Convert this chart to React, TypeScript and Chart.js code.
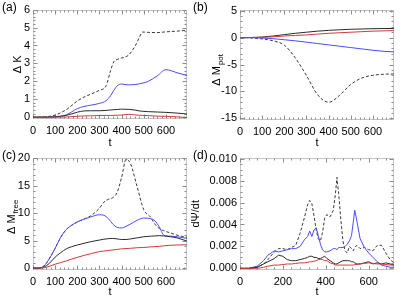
import React, { useEffect, useRef } from 'react';
import { Chart, registerables } from 'chart.js';
Chart.register(...registerables);

const FONT = '"Liberation Sans", Arial, Helvetica, sans-serif';

// ---- Panel (a): Delta K ----
const tA = [0, 50, 100, 150, 200, 230, 260, 300, 330, 350, 365, 380, 400, 430, 460, 480, 495, 520, 560, 600, 650, 695];
const aDashed = [0, 0.02, 0.12, 0.42, 0.9, 1.12, 1.28, 1.5, 1.75, 2.6, 3.1, 3.22, 3.3, 3.45, 3.95, 4.45, 4.75, 4.73, 4.72, 4.76, 4.8, 4.85];
const aBlue = [0, 0, 0.03, 0.13, 0.48, 0.6, 0.67, 0.77, 0.92, 1.2, 1.5, 1.75, 1.85, 1.8, 1.82, 1.86, 1.9, 2.0, 2.3, 2.65, 2.48, 2.32];
const aBlack = [0, 0, 0.02, 0.1, 0.28, 0.35, 0.36, 0.36, 0.38, 0.4, 0.42, 0.43, 0.45, 0.44, 0.4, 0.35, 0.33, 0.31, 0.29, 0.27, 0.23, 0.18];
const aRed = [0, 0, 0, 0.01, 0.05, 0.07, 0.08, 0.09, 0.1, 0.1, 0.1, 0.11, 0.12, 0.16, 0.13, 0.11, 0.1, 0.09, 0.06, 0.05, 0.02, -0.02];
const aYTicks = [0, 1, 2, 3, 4, 5, 6];

// ---- Panel (b): Delta M_pot ----
const tB = [0, 50, 100, 150, 200, 250, 300, 350, 400, 450, 500, 550, 600, 650, 695];
const bDashed = [0, -0.05, -0.25, -0.6, -1.4, -3.8, -7.05, -10.6, -12.0, -10.7, -8.7, -7.5, -7.0, -6.8, -6.75];
const bBlue = [0, -0.02, -0.08, -0.2, -0.4, -0.6, -0.85, -1.1, -1.35, -1.6, -1.85, -2.1, -2.35, -2.55, -2.65];
const bBlack = [0, 0.02, 0.1, 0.3, 0.55, 0.8, 1.0, 1.2, 1.35, 1.45, 1.55, 1.6, 1.65, 1.68, 1.7];
const bRed = [0, 0, 0.05, 0.15, 0.3, 0.4, 0.5, 0.65, 0.8, 0.9, 1.0, 1.1, 1.2, 1.25, 1.3];
const bYTicks = [-15, -10, -5, 0, 5];

// ---- Panel (c): Delta M_free ----
const tC = [0, 25, 50, 75, 100, 125, 150, 175, 200, 230, 260, 300, 320, 340, 360, 380, 400, 420, 440, 470, 500, 530, 550, 570, 590, 620, 650, 695];
const cDashed = [0, 0, 0.4, 1.8, 3.6, 5.6, 7.0, 7.8, 8.4, 8.9, 9.5, 10.9, 12.0, 12.5, 12.8, 13.8, 16.5, 19.8, 19.0, 14.8, 10.6, 9.3, 8.0, 7.2, 6.8, 6.4, 6.0, 5.6];
const cBlue = [0, 0, 0.4, 1.8, 3.6, 5.6, 7.0, 7.8, 8.4, 8.9, 9.3, 9.7, 9.6, 9.0, 8.0, 7.4, 7.3, 7.6, 8.0, 8.7, 9.1, 9.0, 8.6, 7.5, 6.0, 5.8, 5.7, 5.4];
const cBlack = [0, 0, 0.2, 0.9, 2.0, 2.8, 3.5, 3.9, 4.2, 4.5, 4.8, 5.1, 5.25, 5.35, 5.4, 5.3, 5.2, 5.2, 5.3, 5.5, 5.7, 5.8, 5.85, 5.9, 5.85, 5.7, 5.5, 4.9];
const cRed = [0, 0, 0.05, 0.35, 0.7, 1.0, 1.3, 1.65, 1.95, 2.3, 2.6, 3.0, 3.1, 3.2, 3.3, 3.4, 3.5, 3.55, 3.6, 3.7, 3.75, 3.85, 3.9, 3.95, 4.05, 4.15, 4.2, 4.25];
const cYTicks = [0, 5, 10, 15, 20];

// ---- Panel (d): dPsi/dt ----
const tD = [0, 40, 80, 110, 130, 160, 180, 200, 220, 240, 260, 280, 300, 315, 325, 335, 345, 355, 365, 375, 385, 395, 405, 420, 435, 445, 452, 460, 470, 480, 490, 500, 510, 520, 528, 535, 545, 560, 580, 600, 620, 640, 660, 680, 700, 718];
const dDashed = [0, 0, 0.0001, 0.0004, 0.0008, 0.0015, 0.0018, 0.0018, 0.0017, 0.0019, 0.0021, 0.0032, 0.0046, 0.0058, 0.0062, 0.0059, 0.0048, 0.0035, 0.0027, 0.0025, 0.0033, 0.0046, 0.0049, 0.0047, 0.0053, 0.0068, 0.0083, 0.0068, 0.0045, 0.0025, 0.0016, 0.0014, 0.002, 0.0018, 0.0016, 0.0019, 0.0021, 0.0018, 0.0019, 0.0017, 0.0016, 0.0021, 0.0021, 0.0014, 0.0008, 0.0005];
const dBlue = [0, 0, 0.0002, 0.0007, 0.0012, 0.0016, 0.0015, 0.0016, 0.0017, 0.0018, 0.0018, 0.002, 0.0026, 0.0029, 0.0034, 0.0029, 0.0035, 0.0037, 0.003, 0.0022, 0.0017, 0.0015, 0.0015, 0.0016, 0.0018, 0.0018, 0.0017, 0.0019, 0.0019, 0.0019, 0.002, 0.0022, 0.0025, 0.003, 0.0042, 0.0053, 0.0043, 0.0027, 0.0019, 0.0014, 0.001, 0.0006, 0.0003, 0.0002, 0.0001, 0.0001];
const dBlack = [0, 0, 0.0001, 0.0004, 0.0006, 0.0009, 0.0012, 0.0011, 0.0008, 0.0007, 0.0007, 0.0008, 0.0009, 0.001, 0.0011, 0.0011, 0.001, 0.001, 0.0009, 0.0009, 0.001, 0.0011, 0.0009, 0.0007, 0.0005, 0.0004, 0.0004, 0.0005, 0.0006, 0.0007, 0.0007, 0.0007, 0.0007, 0.0006, 0.0006, 0.0005, 0.0004, 0.0004, 0.0005, 0.0006, 0.0004, 0.0005, 0.0004, 0.0005, 0.0004, 0.0003];
const dRed = [0, 0, 0, 0.0001, 0.0002, 0.0003, 0.0003, 0.00035, 0.0004, 0.0004, 0.00045, 0.0005, 0.0005, 0.00055, 0.0006, 0.0006, 0.00065, 0.0007, 0.0008, 0.0008, 0.0008, 0.0007, 0.0007, 0.0005, 0.0004, 0.0003, 0.0003, 0.0003, 0.0003, 0.0003, 0.0003, 0.0003, 0.0003, 0.0003, 0.0003, 0.00035, 0.00035, 0.0004, 0.00045, 0.0005, 0.00045, 0.0004, 0.0004, 0.00035, 0.0003, 0.0003];
const dYTicks = [0, 0.002, 0.004, 0.006, 0.008, 0.01];

const xTicksABC = [0, 100, 200, 300, 400, 500, 600];
const xTicksD = [0, 200, 400, 600];

const BLACK = '#2a2a2a';
const DASH = '#3a3a3a';
const BLUE = '#4b4bff';
const RED = '#d03a3a';

const framePlugin = {
  id: 'frame',
  beforeDatasetsDraw(chart: any) {
    const f = chart.options.plugins.frame;
    const { ctx, chartArea: ca } = chart;
    const xs = chart.scales.x, ys = chart.scales.y;
    const L = Math.round(ca.left) + 0.5, R = Math.round(ca.right) - 0.5;
    const T = Math.round(ca.top) + 0.5, B = Math.round(ca.bottom) - 0.5;
    ctx.save();
    ctx.lineWidth = 1;
    ctx.strokeStyle = '#c4c4c4';
    ctx.strokeRect(L, T, R - L, B - T);
    ctx.strokeStyle = '#8c8c8c';
    ctx.beginPath();
    const nx = Math.floor(xs.max / f.xMinor + 1e-6);
    for (let i = 0; i <= nx; i++) {
      const v = i * f.xMinor;
      const px = Math.round(xs.getPixelForValue(v)) + 0.5;
      const major = Math.abs(v / f.xMajor - Math.round(v / f.xMajor)) < 1e-6;
      const len = major ? 4 : 2;
      ctx.moveTo(px, B); ctx.lineTo(px, B - len);
      ctx.moveTo(px, T); ctx.lineTo(px, T + len);
    }
    const i0 = Math.ceil(ys.min / f.yMinor - 1e-6), i1 = Math.floor(ys.max / f.yMinor + 1e-6);
    for (let i = i0; i <= i1; i++) {
      const v = i * f.yMinor;
      const py = Math.round(ys.getPixelForValue(v)) + 0.5;
      const major = Math.abs(v / f.yMajor - Math.round(v / f.yMajor)) < 1e-6;
      const len = major ? 4 : 2;
      ctx.moveTo(L, py); ctx.lineTo(L + len, py);
      ctx.moveTo(R, py); ctx.lineTo(R - len, py);
    }
    ctx.stroke();
    ctx.restore();
  },
  afterDraw(chart: any) {
    const f = chart.options.plugins.frame;
    const { ctx, chartArea: ca } = chart;
    ctx.save();
    ctx.fillStyle = '#000';
    ctx.textBaseline = 'middle';
    ctx.textAlign = 'left';
    const mainFont = `11px ${FONT}`;
    const subFont = `8px ${FONT}`;
    ctx.font = mainFont;
    const w1 = ctx.measureText(f.title).width;
    ctx.font = subFont;
    const w2 = f.sub ? ctx.measureText(f.sub).width + 1 : 0;
    const cy = (ca.top + ca.bottom) / 2 + (f.sub ? f.subShift : 0);
    ctx.translate(f.titleX, cy);
    ctx.rotate(-Math.PI / 2);
    ctx.font = mainFont;
    ctx.fillText(f.title, -(w1 + w2) / 2, 0);
    if (f.sub) {
      ctx.font = subFont;
      ctx.fillText(f.sub, -(w1 + w2) / 2 + w1 + 1, 4);
    }
    ctx.setTransform(1, 0, 0, 1, 0, 0);
    ctx.font = `12px ${FONT}`;
    ctx.fillText(f.letter, f.letterX, 8);
    ctx.restore();
  },
};

type Series = { data: number[]; color: string; dash?: number[] };
type Cfg = {
  letter: string; letterX: number; title: string; sub?: string; titleX: number; subShift?: number;
  t: number[]; series: Series[]; smooth: boolean;
  xMax: number; xTicks: number[]; xMinor: number; xMajor: number;
  yMin: number; yMax: number; yTicks: number[]; yMinor: number; yMajor: number; yDec: number;
  yWidth: number; padTop: number; padRight: number; xHeight: number;
  left: number; top: number; width: number; height: number;
};

function Panel({ cfg }: { cfg: Cfg }) {
  const ref = useRef<HTMLCanvasElement>(null);
  useEffect(() => {
    const chart = new Chart(ref.current as HTMLCanvasElement, {
      type: 'line',
      data: {
        datasets: cfg.series.map((s) => ({
          data: cfg.t.map((tv, i) => ({ x: tv, y: s.data[i] })),
          borderColor: s.color,
          borderWidth: 1,
          borderDash: s.dash || [],
          pointRadius: 0,
          fill: false,
          tension: 0,
          cubicInterpolationMode: cfg.smooth ? 'monotone' : 'default',
        })),
      },
      options: {
        responsive: false,
        animation: false,
        devicePixelRatio: 1,
        events: [],
        layout: { padding: { left: 0, top: cfg.padTop, right: cfg.padRight, bottom: 0 } },
        plugins: {
          legend: { display: false },
          tooltip: { enabled: false },
          frame: {
            letter: cfg.letter, letterX: cfg.letterX, title: cfg.title, sub: cfg.sub, titleX: cfg.titleX,
            subShift: cfg.subShift ?? 5,
            xMinor: cfg.xMinor, xMajor: cfg.xMajor, yMinor: cfg.yMinor, yMajor: cfg.yMajor,
          },
        } as any,
        scales: {
          x: {
            type: 'linear',
            min: 0,
            max: cfg.xMax,
            grid: { display: false, drawTicks: false },
            border: { display: false },
            afterBuildTicks: (s: any) => { s.ticks = cfg.xTicks.map((v) => ({ value: v })); },
            ticks: {
              autoSkip: false, maxRotation: 0, minRotation: 0, padding: 5, color: '#000',
              font: { family: FONT, size: 11 },
              callback: (v: any) => String(v),
            },
            title: {
              display: true, text: 't', color: '#000',
              font: { family: FONT, size: 11, lineHeight: 1 },
              padding: { top: 0, bottom: 0 },
            },
            afterFit: (s: any) => { s.height = cfg.xHeight; },
          },
          y: {
            type: 'linear',
            min: cfg.yMin,
            max: cfg.yMax,
            grid: { display: false, drawTicks: false },
            border: { display: false },
            afterBuildTicks: (s: any) => { s.ticks = cfg.yTicks.map((v) => ({ value: v })); },
            ticks: {
              autoSkip: false, padding: 3, color: '#000',
              font: { family: FONT, size: 11 },
              callback: (v: any) => Number(v).toFixed(cfg.yDec),
            },
            afterFit: (s: any) => { s.width = cfg.yWidth; },
          },
        },
      } as any,
      plugins: [framePlugin as any],
    });
    return () => chart.destroy();
  }, []);
  return (
    <canvas
      ref={ref}
      width={cfg.width}
      height={cfg.height}
      style={{ position: 'absolute', left: cfg.left, top: cfg.top, width: cfg.width, height: cfg.height }}
    />
  );
}

const DASHES = [3, 2];

const panels: Cfg[] = [
  {
    letter: '(a)', letterX: 2, title: 'Δ K', titleX: 18, t: tA, smooth: true,
    series: [
      { data: aRed, color: RED }, { data: aBlack, color: BLACK },
      { data: aBlue, color: BLUE }, { data: aDashed, color: DASH, dash: DASHES },
    ],
    xMax: 695, xTicks: xTicksABC, xMinor: 20, xMajor: 100,
    yMin: -0.1, yMax: 6, yTicks: aYTicks, yMinor: 0.2, yMajor: 1, yDec: 0,
    yWidth: 33, padTop: 5, padRight: 8, xHeight: 29,
    left: 0, top: 0, width: 195, height: 148,
  },
  {
    letter: '(b)', letterX: 3, title: 'Δ M', sub: 'pot', titleX: 27, t: tB, smooth: true,
    series: [
      { data: bRed, color: RED }, { data: bBlack, color: BLACK },
      { data: bBlue, color: BLUE }, { data: bDashed, color: DASH, dash: DASHES },
    ],
    xMax: 695, xTicks: xTicksABC, xMinor: 20, xMajor: 100,
    yMin: -15.3, yMax: 5.2, yTicks: bYTicks, yMinor: 1, yMajor: 5, yDec: 0,
    yWidth: 50, padTop: 5, padRight: 21, xHeight: 28,
    left: 190, top: 0, width: 225, height: 148,
  },
  {
    letter: '(c)', letterX: 2, title: 'Δ M', sub: 'free', titleX: 12, subShift: 3, t: tC, smooth: true,
    series: [
      { data: cRed, color: RED }, { data: cBlack, color: BLACK },
      { data: cBlue, color: BLUE }, { data: cDashed, color: DASH, dash: DASHES },
    ],
    xMax: 695, xTicks: xTicksABC, xMinor: 20, xMajor: 100,
    yMin: -0.35, yMax: 20.1, yTicks: cYTicks, yMinor: 1, yMajor: 5, yDec: 0,
    yWidth: 33, padTop: 6, padRight: 8, xHeight: 27,
    left: 0, top: 148, width: 195, height: 149,
  },
  {
    letter: '(d)', letterX: 3, title: 'dΨ/dt', titleX: 6, t: tD, smooth: false,
    series: [
      { data: dRed, color: RED }, { data: dBlack, color: BLACK },
      { data: dBlue, color: BLUE }, { data: dDashed, color: DASH, dash: DASHES },
    ],
    xMax: 718, xTicks: xTicksD, xMinor: 40, xMajor: 200,
    yMin: -0.00015, yMax: 0.0101, yTicks: dYTicks, yMinor: 0.0005, yMajor: 0.002, yDec: 3,
    yWidth: 50, padTop: 6, padRight: 21, xHeight: 27,
    left: 190, top: 148, width: 225, height: 149,
  },
];

export default function App() {
  return (
    <div style={{ position: 'absolute', left: 0, top: 0, width: 415, height: 297, background: '#fff' }}>
      {panels.map((p) => (
        <Panel key={p.letter} cfg={p} />
      ))}
    </div>
  );
}
